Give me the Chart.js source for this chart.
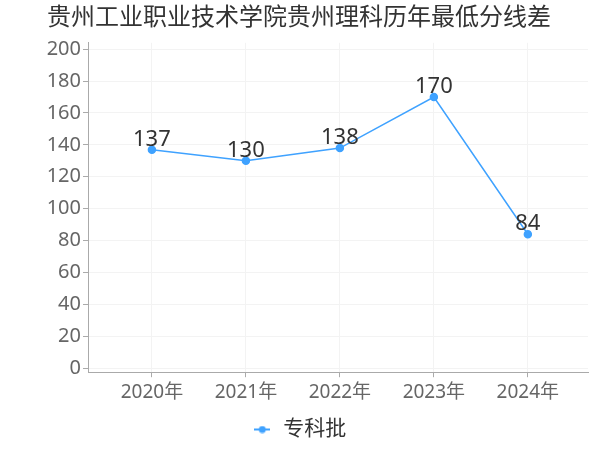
<!DOCTYPE html>
<html><head><meta charset="utf-8">
<script src="https://cdn.jsdelivr.net/npm/chart.js@4/dist/chart.umd.min.js"></script>
<style>html,body{margin:0;padding:0;background:#fff}#wrap{width:600px;height:450px}</style>
</head><body><div id="wrap"><canvas id="c" width="600" height="450"></canvas></div>
<script>
const categories = ['2020年','2021年','2022年','2023年','2024年'];
const seriesName = '专科批';
const values = [137, 130, 138, 170, 84];
const yTicks = [0,20,40,60,80,100,120,140,160,180,200];
const titleText = '贵州工业职业技术学院贵州理科历年最低分线差';

const FONT = "'Noto Sans','Noto Sans CJK SC',sans-serif";
const BLUE = '#3fa2ff';

const legendIcon = document.createElement('canvas');
legendIcon.width = 16; legendIcon.height = 8;
(function(){const g=legendIcon.getContext('2d');g.strokeStyle=BLUE;g.lineWidth=2;g.beginPath();g.moveTo(0,4);g.lineTo(16,4);g.stroke();g.fillStyle=BLUE;g.beginPath();g.arc(8,4,3.5,0,Math.PI*2);g.fill();})();

const labelPlugin = {
  id:'valueLabels',
  afterDatasetsDraw(chart){
    const ctx=chart.ctx; const meta=chart.getDatasetMeta(0);
    ctx.save(); ctx.font="22px "+FONT; ctx.fillStyle='#333'; ctx.textAlign='center'; ctx.textBaseline='bottom';
    meta.data.forEach((pt,i)=>{ctx.fillText(String(values[i]), pt.x, pt.y+1);});
    ctx.restore();
  }
};

new Chart(document.getElementById('c'), {
  type:'line',
  data:{datasets:[{label:seriesName, data:values.map((v,i)=>({x:i,y:v})), borderColor:BLUE, backgroundColor:BLUE, borderWidth:1.5, pointRadius:3.5, pointHoverRadius:3.5, tension:0}]},
  options:{
    responsive:false, animation:false,
    layout:{padding:{left:10,right:12,top:0,bottom:0}},
    plugins:{
      title:{display:true,text:titleText,color:'#333',font:{family:FONT,size:24,weight:'normal'},padding:{top:4,bottom:10}},
      legend:{position:'bottom',labels:{usePointStyle:true,pointStyle:legendIcon,color:'#333',font:{family:FONT,size:21},padding:7}},
      tooltip:{enabled:false}
    },
    scales:{
      x:{type:'linear',min:-0.68,max:4.64,
        afterBuildTicks(s){s.ticks=categories.map((c,i)=>({value:i}));},
        afterFit(s){s.height+=4;},
        ticks:{callback:(v)=>categories[v]||'',color:'#666',font:{family:FONT,size:19},padding:4},
        grid:{color:'#f3f3f3',tickColor:'#aaa',tickLength:5,drawTicks:true},
        border:{color:'#aaa'}},
      y:{min:-2.5,max:204,
        afterBuildTicks(s){s.ticks=yTicks.map(v=>({value:v}));},
        afterFit(s){s.width=78;},
        ticks:{color:'#666',font:{family:FONT,size:20},padding:2},
        grid:{color:'#f3f3f3',tickColor:'#aaa',tickLength:5},
        border:{color:'#aaa'}}
    }
  },
  plugins:[labelPlugin]
});
</script></body></html>
